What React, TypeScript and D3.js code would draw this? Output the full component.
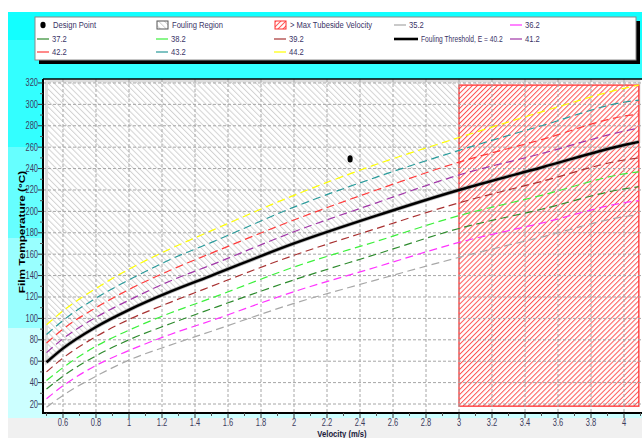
import React from "react";
import * as d3 from "d3";

// velocity (m/s) at which each film temperature curve was read
const velocity = [0.5, 0.6, 0.8, 1.0, 1.25, 1.5, 2.0, 2.5, 3.0, 3.5, 4.0, 4.09];

// film temperature (°C) per wall temperature / E series
const t352 = [17, 28, 46, 61, 75, 88, 114, 136, 157, 176, 195, 197];
const t362 = [25, 37, 56, 70, 85, 98, 125, 148, 171, 189, 208, 210];
const t372 = [34, 46, 65, 80, 95, 109, 136, 160, 184, 202, 221, 223];
const t382 = [42, 54, 74, 89, 105, 119, 148, 172, 196, 215, 235, 237];
const t392 = [50, 63, 83, 99, 115, 130, 159, 184, 208, 228, 248, 250];
const t402 = [59, 72, 92, 108, 125, 140, 170, 196, 220, 241, 262, 265];
const t412 = [68, 81, 101, 117, 135, 150, 181, 208, 234, 254, 275, 278];
const t422 = [77, 90, 110, 127, 145, 161, 192, 220, 246, 267, 289, 291];
const t432 = [85, 98, 119, 136, 155, 171, 204, 232, 257, 280, 302, 304];
const t442 = [94, 107, 128, 146, 165, 182, 215, 244, 269, 293, 315, 318];

const designVelocity = 2.34;
const designTemp = 249;

const maxVelocity = 3.0;
const maxVelocityTemps = [18, 318];
const foulingTop = 322;

const xTicks = [0.6, 0.8, 1, 1.2, 1.4, 1.6, 1.8, 2, 2.2, 2.4, 2.6, 2.8, 3, 3.2, 3.4, 3.6, 3.8, 4];
const yTicks = [20, 40, 60, 80, 100, 120, 140, 160, 180, 200, 220, 240, 260, 280, 300, 320];

const series = [
  { name: "35.2", values: t352, color: "#a8a8a8" },
  { name: "36.2", values: t362, color: "#ff33ff" },
  { name: "37.2", values: t372, color: "#2e8b2e" },
  { name: "38.2", values: t382, color: "#3cf03c" },
  { name: "39.2", values: t392, color: "#a83232" },
  { name: "Fouling Threshold, E = 40.2", values: t402, color: "#000000", threshold: true },
  { name: "41.2", values: t412, color: "#a035a8" },
  { name: "42.2", values: t422, color: "#ff3a3a" },
  { name: "43.2", values: t432, color: "#279a9a" },
  { name: "44.2", values: t442, color: "#ffff00" },
];

const W = 642;
const H = 438;
const left = 43;
const right = 642;
const top = 79;
const bottom = 413;

const x = d3.scaleLinear().domain([0.4788, 4.109]).range([left, right]);
const y = d3.scaleLinear().domain([11.6, 323.7]).range([bottom, top]);

const font = "'Liberation Sans', Arial, sans-serif";
const tickColor = "#3b3b5e";
const legendColor = "#3a3366";

// squeezed text, the original is rendered narrow
const SText = ({ x, y, sx = 0.75, anchor = "start", size = 10, weight = "normal", fill = "#000", children }: any) => (
  <text
    transform={`translate(${x},${y}) scale(${sx},1)`}
    textAnchor={anchor}
    fontSize={size}
    fontWeight={weight}
    fontFamily={font}
    fill={fill}
  >
    {children}
  </text>
);

export default function App() {
  const line = d3
    .line<number>()
    .x((d, i) => x(velocity[i]))
    .y((d) => y(d))
    .curve(d3.curveMonotoneX);

  const foulingArea = d3
    .area<number>()
    .x((d, i) => x(velocity[i]))
    .y0(y(foulingTop))
    .y1((d) => y(d))
    .curve(d3.curveMonotoneX);

  const xMinor = d3.range(5, 42).map((v) => v / 10).filter((v) => !xTicks.some((t) => Math.abs(t - v) < 1e-6));
  const yMinor = d3.range(30, 321, 20);

  // legend layout: 5 columns, row major
  const colX = [38, 157, 275, 395, 511];
  const rowY = [25, 39, 52];
  const legendItems: any[] = [
    { kind: "point", label: "Design Point" },
    { kind: "fouling", label: "Fouling Region" },
    { kind: "maxvel", label: "> Max Tubeside Velocity" },
    ...series.map((s) => ({ kind: "line", label: s.name, color: s.color, threshold: s.threshold })),
  ];

  const bands = [
    { y0: 12, y1: 40, c: "#12ffff" },
    { y0: 40, y1: 147, c: "#33ffff" },
    { y0: 147, y1: 238, c: "#66ffff" },
    { y0: 238, y1: 328, c: "#99ffff" },
    { y0: 328, y1: 418, c: "#ccffff" },
    { y0: 418, y1: 438, c: "#f0f0f0" },
  ];

  return (
    <svg width={W} height={H} style={{ position: "absolute", left: 0, top: 0 }}>
      <defs>
        <pattern id="grayHatch" patternUnits="userSpaceOnUse" width={4.2} height={10} patternTransform="rotate(-45)">
          <line x1={0.5} y1={0} x2={0.5} y2={10} stroke="#d2d2d2" strokeWidth={1} />
        </pattern>
        <pattern id="redHatch" patternUnits="userSpaceOnUse" width={3.55} height={10} patternTransform="rotate(45)">
          <line x1={0.5} y1={0} x2={0.5} y2={10} stroke="#ff5252" strokeWidth={1} />
        </pattern>
        <clipPath id="plotClip">
          <rect x={left} y={top} width={right - left} height={bottom - top} />
        </clipPath>
      </defs>

      <rect width={W} height={H} fill="#fff" />
      {bands.map((b, i) => (
        <rect key={i} x={8} y={b.y0} width={W - 8} height={b.y1 - b.y0} fill={b.c} />
      ))}

      {/* legend */}
      <rect x={39} y={21} width={601} height={43} fill="#000" />
      <rect x={35} y={17} width={601} height={43} fill="#fff" stroke="#8a8a8a" strokeWidth={1} />
      {legendItems.map((it, i) => {
        const cx = colX[i % 5];
        const cy = rowY[Math.floor(i / 5)];
        const ty = cy + 3.4;
        if (it.kind === "point")
          return (
            <g key={i}>
              <ellipse cx={cx + 5} cy={cy} rx={2.6} ry={3.3} fill="#000" />
              <SText x={cx + 15} y={ty} size={9.5} sx={0.8} fill={legendColor}>{it.label}</SText>
            </g>
          );
        if (it.kind === "fouling")
          return (
            <g key={i}>
              <rect x={cx} y={cy - 4} width={11} height={8} fill="url(#grayHatch)" stroke="#555" strokeWidth={1} />
              <SText x={cx + 15} y={ty} size={9.5} sx={0.8} fill={legendColor}>{it.label}</SText>
            </g>
          );
        if (it.kind === "maxvel")
          return (
            <g key={i}>
              <rect x={cx} y={cy - 4} width={11} height={8} fill="url(#redHatch)" stroke="#ff3030" strokeWidth={1} />
              <SText x={cx + 15} y={ty} size={9.5} sx={0.8} fill={legendColor}>{it.label}</SText>
            </g>
          );
        const len = it.threshold ? 24 : 12;
        return (
          <g key={i}>
            <line x1={cx - 1} x2={cx - 1 + len} y1={cy} y2={cy} stroke={it.color} strokeWidth={it.threshold ? 2.6 : 1.6} opacity={it.threshold ? 1 : 0.75} />
            <SText x={cx + len + 2} y={ty} size={9.5} sx={it.threshold ? 0.7 : 0.8} fill={legendColor}>{it.label}</SText>
          </g>
        );
      })}

      {/* plot */}
      <rect x={left} y={top} width={right - left} height={bottom - top} fill="#fff" />
      <g clipPath="url(#plotClip)">
        <path d={foulingArea(t402) as string} fill="url(#grayHatch)" stroke="#dcdcdc" strokeWidth={3} />
        <rect
          x={x(maxVelocity)}
          y={y(maxVelocityTemps[1])}
          width={x(velocity[velocity.length - 1]) - x(maxVelocity)}
          height={y(maxVelocityTemps[0]) - y(maxVelocityTemps[1])}
          fill="#fff"
        />
        <rect
          x={x(maxVelocity)}
          y={y(maxVelocityTemps[1])}
          width={x(velocity[velocity.length - 1]) - x(maxVelocity)}
          height={y(maxVelocityTemps[0]) - y(maxVelocityTemps[1])}
          fill="url(#redHatch)"
          stroke="#ff3030"
          strokeWidth={1.3}
        />

        {xTicks.map((t) => (
          <line key={"gx" + t} x1={x(t)} x2={x(t)} y1={top} y2={bottom} stroke="#a6a6a6" strokeDasharray="3,2" />
        ))}
        {yTicks.map((t) => (
          <line key={"gy" + t} x1={left} x2={right} y1={y(t)} y2={y(t)} stroke="#a6a6a6" strokeDasharray="3,2" />
        ))}

        {series.map((s) =>
          s.threshold ? (
            <g key={s.name}>
              <path d={line(s.values) as string} fill="none" stroke="#8a8a8a" strokeWidth={4} opacity={0.6} />
              <path d={line(s.values) as string} fill="none" stroke="#000" strokeWidth={2.4} />
            </g>
          ) : (
            <path key={s.name} d={line(s.values) as string} fill="none" stroke={s.color} strokeWidth={1.2} strokeDasharray="8,4.5" />
          )
        )}

        <ellipse cx={x(designVelocity)} cy={y(designTemp)} rx={2.6} ry={3.6} fill="#000" />
      </g>

      {/* frame and axes */}
      <line x1={left} x2={right} y1={top} y2={top} stroke="#000" strokeWidth={1.5} />
      <line x1={left} x2={left} y1={top} y2={bottom + 1} stroke="#000" strokeWidth={2} />
      <line x1={left} x2={right} y1={bottom} y2={bottom} stroke="#000" strokeWidth={2} />

      {yTicks.map((t) => (
        <g key={"yt" + t}>
          <line x1={left - 5} x2={left} y1={y(t)} y2={y(t)} stroke="#333" />
          <SText x={left - 5} y={y(t) + 3.5} anchor="end" sx={0.75} fill={tickColor}>{t}</SText>
        </g>
      ))}
      {yMinor.map((t) => (
        <line key={"ym" + t} x1={left - 3} x2={left} y1={y(t)} y2={y(t)} stroke="#555" />
      ))}
      {xTicks.map((t) => (
        <g key={"xt" + t}>
          <line x1={x(t)} x2={x(t)} y1={bottom} y2={bottom + 5} stroke="#333" />
          <SText x={x(t)} y={426} anchor="middle" sx={0.75} fill={tickColor}>{String(+t.toFixed(1))}</SText>
        </g>
      ))}
      {xMinor.map((t) => (
        <line key={"xm" + t} x1={x(t)} x2={x(t)} y1={bottom} y2={bottom + 3} stroke="#555" />
      ))}

      <text
        transform="translate(25,232) scale(0.8,1) rotate(-90)"
        textAnchor="middle"
        fontSize={11.8}
        fontWeight="bold"
        fontFamily={font}
        fill="#000"
      >
        Film Temperature (°C)
      </text>
      <SText x={342} y={437} anchor="middle" size={9} weight="bold" sx={0.85} fill="#1a1a3a">
        Velocity (m/s)
      </SText>
    </svg>
  );
}
